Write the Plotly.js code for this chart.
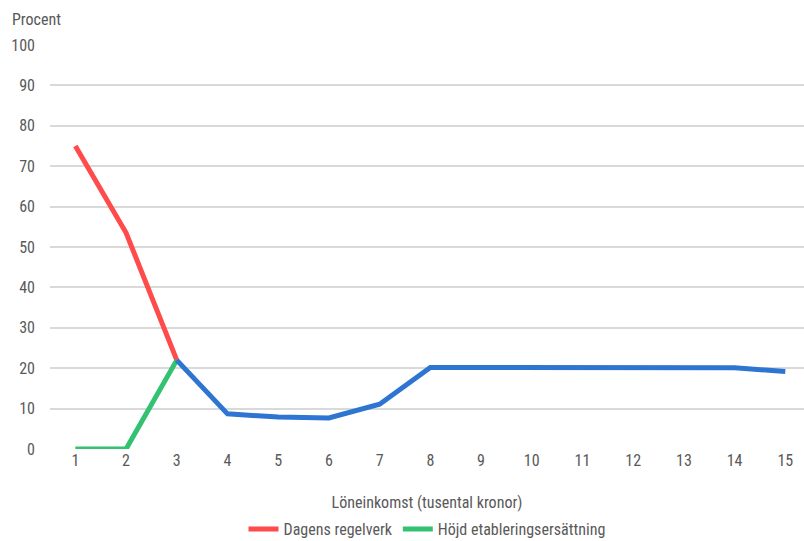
<!DOCTYPE html>
<html>
<head>
<meta charset="utf-8">
<script src="https://cdn.plot.ly/plotly-3.0.1.min.js"></script>
<style>
html,body{margin:0;padding:0;background:#fff;}
#chart{width:804px;height:541px;}
#chart text{font-stretch:condensed !important;}
</style>
</head>
<body>
<div id="chart"></div>
<script>
var categories = [1,2,3,4,5,6,7,8,9,10,11,12,13,14,15];
var dagensRegelverk = [75, 53.5, 22, null, null, null, null, null, null, null, null, null, null, null, null];
var hojdEtablering = [0, 0, 22, null, null, null, null, null, null, null, null, null, null, null, null];
var gemensam = [null, null, 22, 8.7, 7.9, 7.7, 11.1, 20.2, 20.2, 20.2, 20.2, 20.2, 20.2, 20.1, 19.2];
var yTicks = [0,10,20,30,40,50,60,70,80,90,100];

var FONT = '"Roboto Condensed", "Liberation Sans Narrow", "DejaVu Sans Condensed", "DejaVu Sans", sans-serif';
var TXT = '#595959';

var traces = [
  {x: categories, y: dagensRegelverk, name: 'Dagens regelverk', type: 'scatter', mode: 'lines',
   line: {color: '#FF4B4B', width: 5}},
  {x: categories, y: hojdEtablering, name: 'Höjd etableringsersättning', type: 'scatter', mode: 'lines',
   line: {color: '#33C172', width: 5}},
  {x: categories, y: gemensam, name: 'Båda', type: 'scatter', mode: 'lines',
   line: {color: '#2E75D2', width: 5}, showlegend: false}
];

var plotW = 754, plotH = 404;
var layout = {
  width: 804, height: 541,
  margin: {l: 50, r: 0, t: 45, b: 92, autoexpand: false},
  paper_bgcolor: '#fff', plot_bgcolor: '#fff',
  font: {family: FONT, color: TXT, size: 16},
  showlegend: true,
  legend: {orientation: 'h', x: 0.5, xanchor: 'center', y: -63 / plotH, yanchor: 'top',
           font: {family: FONT, color: TXT, size: 16}, traceorder: 'normal'},
  xaxis: {
    type: 'linear', range: [0.5, 0.5 + plotW / 50.71],
    tickvals: categories, ticktext: categories.map(String),
    showgrid: false, zeroline: false, showline: false, ticks: '',
    tickfont: {family: FONT, color: TXT, size: 16},
    title: {text: 'Löneinkomst (tusental kronor)', font: {family: FONT, color: TXT, size: 16}, standoff: 27}
  },
  yaxis: {
    range: [0, 100], tickvals: yTicks,
    showgrid: true, gridcolor: '#d9d9d9', gridwidth: 2,
    zeroline: false, showline: false, ticks: '',
    ticklabelstandoff: 14,
    tickfont: {family: FONT, color: TXT, size: 16}
  },
  annotations: [{
    text: 'Procent', xref: 'paper', yref: 'paper',
    x: -40 / plotW, y: 1 + 25 / plotH, xanchor: 'left', yanchor: 'middle',
    showarrow: false, font: {family: FONT, color: TXT, size: 16}
  }]
};

Plotly.newPlot('chart', traces, layout, {displayModeBar: false, staticPlot: true});
</script>
</body>
</html>
